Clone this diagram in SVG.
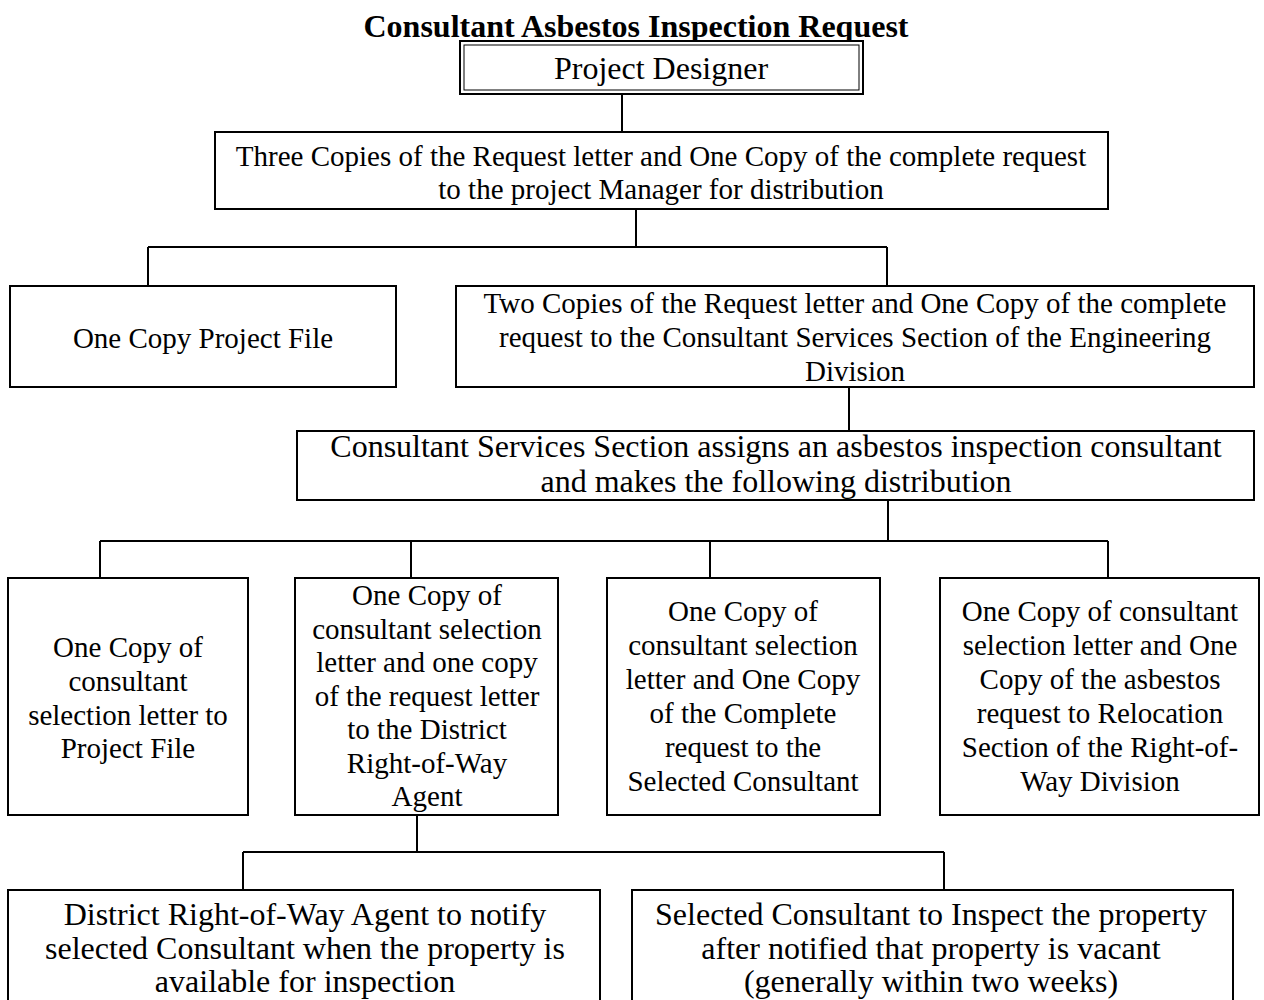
<svg xmlns="http://www.w3.org/2000/svg" width="1264" height="1000" viewBox="0 0 1264 1000">
<style>
.bx{fill:#fff;stroke:#000;stroke-width:2}
.t{font-family:"Liberation Serif","Times New Roman",serif;font-size:29px;fill:#000;text-anchor:middle}
.tl{font-size:32px}
.title{font-family:"Liberation Serif","Times New Roman",serif;font-size:32px;font-weight:bold;fill:#000;text-anchor:middle}
.c{stroke:#000;stroke-width:2;fill:none}
</style>
<rect width="1264" height="1000" fill="#fff"/>
<text class="title" x="636" y="37">Consultant Asbestos Inspection Request</text>
<g id="connectors">
<path class="c" d="M622,94V132"/>
<path class="c" d="M636,209V247M148,247H887M148,247V286M887,247V286"/>
<path class="c" d="M849,387V431"/>
<path class="c" d="M888,500V541M100,541H1108M100,541V578M411,541V578M710,541V578M1108,541V578"/>
<path class="c" d="M417,815V852M243,852H944M243,852V890M944,852V890"/>
</g>
<g id="n_designer">
<rect class="bx" x="460" y="41" width="403" height="53"/>
<rect x="464" y="45" width="395" height="45" fill="none" stroke="#000" stroke-width="1"/>
<text class="t tl" x="661" y="79">Project Designer</text>
</g>
<g id="n_three_copies">
<rect class="bx" x="215" y="132" width="893" height="77"/>
<text class="t" x="661" y="166">Three Copies of the Request letter and One Copy of the complete request</text>
<text class="t" x="661" y="199">to the project Manager for distribution</text>
</g>
<g id="n_project_file">
<rect class="bx" x="10" y="286" width="386" height="101"/>
<text class="t" x="203" y="348">One Copy Project File</text>
</g>
<g id="n_two_copies">
<rect class="bx" x="456" y="286" width="798" height="101"/>
<text class="t" x="855" y="313">Two Copies of the Request letter and One Copy of the complete</text>
<text class="t" x="855" y="347">request to the Consultant Services Section of the Engineering</text>
<text class="t" x="855" y="381">Division</text>
</g>
<g id="n_css">
<rect class="bx" x="297" y="431" width="957" height="69"/>
<text class="t tl" x="776" y="457">Consultant Services Section assigns an asbestos inspection consultant</text>
<text class="t tl" x="776" y="492">and makes the following distribution</text>
</g>
<g id="n_copy_file">
<rect class="bx" x="8" y="578" width="240" height="237"/>
<text class="t" x="128" y="657">One Copy of</text>
<text class="t" x="128" y="691">consultant</text>
<text class="t" x="128" y="725">selection letter to</text>
<text class="t" x="128" y="758">Project File</text>
</g>
<g id="n_district">
<rect class="bx" x="295" y="578" width="263" height="237"/>
<text class="t" x="427" y="605">One Copy of</text>
<text class="t" x="427" y="639">consultant selection</text>
<text class="t" x="427" y="672">letter and one copy</text>
<text class="t" x="427" y="706">of the request letter</text>
<text class="t" x="427" y="739">to the District</text>
<text class="t" x="427" y="773">Right-of-Way</text>
<text class="t" x="427" y="806">Agent</text>
</g>
<g id="n_selected">
<rect class="bx" x="607" y="578" width="273" height="237"/>
<text class="t" x="743" y="621">One Copy of</text>
<text class="t" x="743" y="655">consultant selection</text>
<text class="t" x="743" y="689">letter and One Copy</text>
<text class="t" x="743" y="723">of the Complete</text>
<text class="t" x="743" y="757">request to the</text>
<text class="t" x="743" y="791">Selected Consultant</text>
</g>
<g id="n_relocation">
<rect class="bx" x="940" y="578" width="319" height="237"/>
<text class="t" x="1100" y="621">One Copy of consultant</text>
<text class="t" x="1100" y="655">selection letter and One</text>
<text class="t" x="1100" y="689">Copy of the asbestos</text>
<text class="t" x="1100" y="723">request to Relocation</text>
<text class="t" x="1100" y="757">Section of the Right-of-</text>
<text class="t" x="1100" y="791">Way Division</text>
</g>
<g id="n_notify">
<rect class="bx" x="8" y="890" width="592" height="130"/>
<text class="t tl" x="305" y="925">District Right-of-Way Agent to notify</text>
<text class="t tl" x="305" y="959">selected Consultant when the property is</text>
<text class="t tl" x="305" y="992">available for inspection</text>
</g>
<g id="n_inspect">
<rect class="bx" x="632" y="890" width="601" height="130"/>
<text class="t tl" x="931" y="925">Selected Consultant to Inspect the property</text>
<text class="t tl" x="931" y="959">after notified that property is vacant</text>
<text class="t tl" x="931" y="992">(generally within two weeks)</text>
</g>
</svg>
